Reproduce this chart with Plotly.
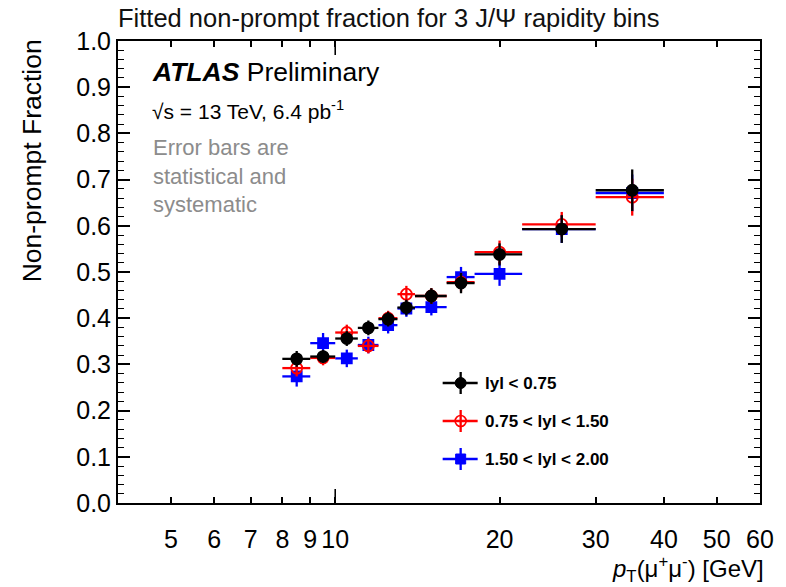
import math
import plotly.graph_objects as go

# ---------------- data ----------------
bin_lo = [8, 9, 10, 11, 12, 13, 14, 16, 18, 22, 30]
bin_hi = [9, 10, 11, 12, 13, 14, 16, 18, 22, 30, 40]
pt_center = [8.5, 9.5, 10.5, 11.5, 12.5, 13.5, 15, 17, 20, 26, 35]

frac_y075 = [0.312, 0.317, 0.356, 0.379, 0.398, 0.423, 0.448, 0.476, 0.538, 0.593, 0.677]
err_y075 = [0.017, 0.014, 0.016, 0.016, 0.016, 0.017, 0.017, 0.022, 0.024, 0.030, 0.045]

frac_y150 = [0.292, 0.314, 0.369, 0.340, 0.400, 0.452, 0.448, 0.478, 0.543, 0.603, 0.662]
err_y150 = [0.018, 0.016, 0.017, 0.016, 0.016, 0.018, 0.017, 0.020, 0.025, 0.027, 0.040]

frac_y200 = [0.274, 0.346, 0.313, 0.342, 0.385, 0.421, 0.424, 0.489, 0.496, 0.593, 0.671]
err_y200 = [0.022, 0.022, 0.019, 0.018, 0.018, 0.018, 0.018, 0.022, 0.026, 0.030, 0.040]

series_names = ["|y| < 0.75", "0.75 < |y| < 1.50", "1.50 < |y| < 2.00"]
x_tickvals = [5, 6, 7, 8, 9, 10, 20, 30, 40, 50, 60]
x_ticktext = ["5", "6", "7", "8", "9", "10", "20", "30", "40", "50", "60"]
y_tickvals = [0.0, 0.1, 0.2, 0.3, 0.4, 0.5, 0.6, 0.7, 0.8, 0.9, 1.0]
y_ticktext = ["0.0", "0.1", "0.2", "0.3", "0.4", "0.5", "0.6", "0.7", "0.8", "0.9", "1.0"]
x_range = [4, 60]
major_decade_tick = 10

FONT = "Liberation Sans"

xerr_plus = [h - c for h, c in zip(bin_hi, pt_center)]
xerr_minus = [c - l for l, c in zip(bin_lo, pt_center)]

fig = go.Figure()

def add_series(vals, errs, color, symbol, size, name):
    fig.add_trace(go.Scatter(
        x=pt_center, y=vals, mode="markers", name=name, showlegend=False,
        marker=dict(symbol=symbol, size=size, color=color,
                    line=dict(color=color, width=1.8)),
        error_y=dict(type="data", array=errs, color=color, thickness=2.3, width=0),
        error_x=dict(type="data", symmetric=False, array=xerr_plus,
                     arrayminus=xerr_minus, color=color, thickness=2.3, width=0),
    ))

# drawing order: blue, red, black (black on top)
add_series(frac_y200, err_y200, "#0000ff", "square", 10, series_names[2])
add_series(frac_y150, err_y150, "#ff0000", "circle-open", 11, series_names[1])
add_series(frac_y075, err_y075, "#000000", "circle", 11, series_names[0])

lx0, lx1 = math.log10(x_range[0]), math.log10(x_range[1])
fig.update_xaxes(
    type="log", range=[lx0, lx1],
    tickvals=x_tickvals, ticktext=x_ticktext,
    ticks="inside", ticklen=6, tickwidth=1.5, tickcolor="black",
    showline=True, linecolor="black", linewidth=2, mirror="ticks",
    showgrid=False, zeroline=False,
    tickfont=dict(family=FONT, size=25, color="black"),
    ticklabelstandoff=13,
)
fig.update_yaxes(
    range=[0, 1], tickvals=y_tickvals, ticktext=y_ticktext,
    ticks="inside", ticklen=12, tickwidth=1.5, tickcolor="black",
    minor=dict(dtick=0.02, tick0=0, ticks="inside", ticklen=6, tickwidth=1.2, tickcolor="black"),
    showline=True, linecolor="black", linewidth=2, mirror="ticks",
    showgrid=False, zeroline=False,
    tickfont=dict(family=FONT, size=25, color="black"),
)

shapes = []
# long decade tick at 10 (bottom and top)
dec_frac = (math.log10(major_decade_tick) - lx0) / (lx1 - lx0)
for y0, y1 in [(0, 14 / 462), (1 - 14 / 462, 1)]:
    shapes.append(dict(type="line", xref="paper", yref="paper", x0=dec_frac, x1=dec_frac,
                       y0=y0, y1=y1, layer="above", line=dict(color="black", width=1.6)))

# manual legend glyphs
leg_x = (466 - 118) / 652
leg_rows = [(503 - 383) / 462, (503 - 421) / 462, (503 - 459) / 462]
leg_colors = ["#000000", "#ff0000", "#0000ff"]
for ly, col, kind in zip(leg_rows, leg_colors, ["circle", "open", "square"]):
    common = dict(xref="paper", yref="paper", xsizemode="pixel", ysizemode="pixel",
                  xanchor=leg_x, yanchor=ly)
    shapes.append(dict(type="line", x0=-18, x1=17, y0=0, y1=0,
                       line=dict(color=col, width=2.3), **common))
    shapes.append(dict(type="line", x0=0, x1=0, y0=-11, y1=11,
                       line=dict(color=col, width=2.3), **common))
    if kind == "circle":
        shapes.append(dict(type="circle", x0=-5.5, x1=5.5, y0=-5.5, y1=5.5, fillcolor=col,
                           line=dict(color=col, width=1), **common))
    elif kind == "open":
        shapes.append(dict(type="circle", x0=-5.5, x1=5.5, y0=-5.5, y1=5.5,
                           fillcolor="rgba(0,0,0,0)",
                           line=dict(color=col, width=1.6), **common))
    else:
        shapes.append(dict(type="rect", x0=-5, x1=5, y0=-5, y1=5, fillcolor=col,
                           line=dict(color=col, width=1), **common))

annotations = []
for ly, name in zip(leg_rows, series_names):
    annotations.append(dict(xref="paper", yref="paper", x=(489 - 118) / 652, y=ly,
                            xanchor="left", yanchor="middle", showarrow=False,
                            text="<b>" + name.replace("|y|", "lyl") + "</b>",
                            font=dict(family=FONT, size=17, color="black")))

annotations += [
    dict(xref="paper", yref="paper", x=(150 - 118) / 652, y=(503 - 72) / 462,
         xanchor="left", yanchor="middle", showarrow=False,
         text="<b><i>ATLAS</i></b> Preliminary",
         font=dict(family=FONT, size=26.5, color="black")),
    dict(xref="paper", yref="paper", x=(150 - 118) / 652, y=(503 - 110) / 462,
         xanchor="left", yanchor="middle", showarrow=False,
         text="√s = 13 TeV, 6.4 pb<sup>-1</sup>",
         font=dict(family=FONT, size=21, color="black")),
    dict(xref="paper", yref="paper", x=(152 - 118) / 652, y=(503 - 176) / 462,
         xanchor="left", yanchor="middle", showarrow=False, align="left",
         text="Error bars are<br>statistical and<br>systematic",
         font=dict(family=FONT, size=22, color="#8c8c8c")),
    dict(xref="paper", yref="paper", x=-(118 - 31) / 652, y=(503 - 161) / 462,
         xanchor="center", yanchor="middle", showarrow=False, textangle=-90,
         text="Non-prompt Fraction",
         font=dict(family=FONT, size=26.5, color="black")),
    dict(xref="paper", yref="paper", x=1.01, y=-(569 - 503) / 462,
         xanchor="right", yanchor="middle", showarrow=False,
         text="<i>p</i><sub>T</sub>(μ<sup>+</sup>μ<sup>-</sup>) [GeV]",
         font=dict(family=FONT, size=24, color="black")),
]

fig.update_layout(
    width=786, height=587,
    margin=dict(l=118, r=16, t=41, b=84),
    paper_bgcolor="white", plot_bgcolor="white",
    showlegend=False,
    title=dict(text="Fitted non-prompt fraction for 3 J/Ψ rapidity bins",
               xref="paper", x=0, xanchor="left",
               yref="container", y=1 - 18 / 587, yanchor="middle",
               font=dict(family=FONT, size=25.5, color="#111111")),
    shapes=shapes,
    annotations=annotations,
)

fig.write_html("out.html")
